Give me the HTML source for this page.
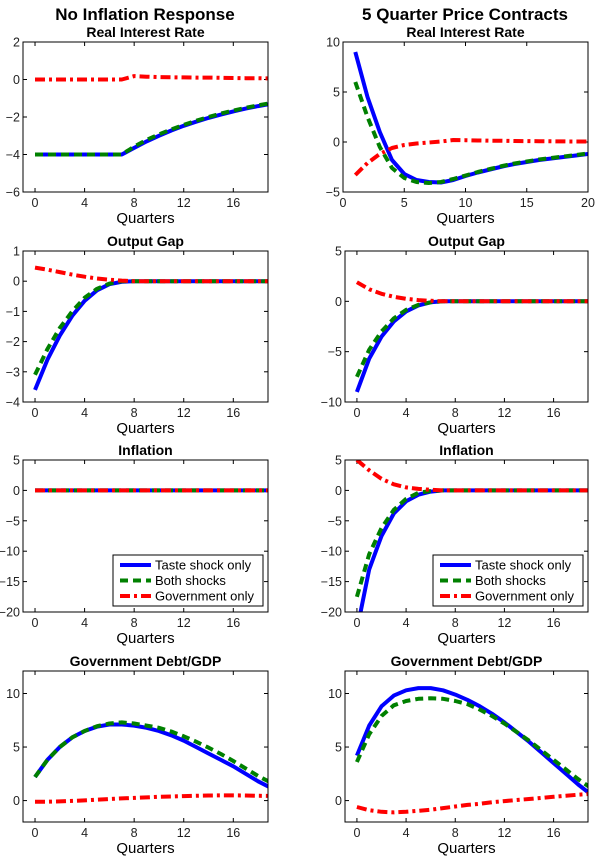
<!DOCTYPE html>
<html><head><meta charset="utf-8">
<style>
html,body{margin:0;padding:0;background:#fff;}
svg{display:block;font-family:"Liberation Sans",Arial,sans-serif;}
</style></head>
<body>
<svg id="fig" width="600" height="862" viewBox="0 0 600 862">
<text x="145" y="20" font-size="17" font-weight="bold" text-anchor="middle">No Inflation Response</text>
<text x="465" y="20" font-size="17" font-weight="bold" text-anchor="middle">5 Quarter Price Contracts</text>
</svg>
<script>
const qA=[0,1,2,3,4,5,6,7,8,9,10,11,12,13,14,15,16,17,18,19];
const qB=[1,2,3,4,5,6,7,8,9,10,11,12,13,14,15,16,17,18,19,20];
const ticksQ=[0,4,8,12,16];
const ticksQB=[0,5,10,15,20];

const rirL_blue=[-4,-4,-4,-4,-4,-4,-4,-4,-3.65,-3.3,-3.0,-2.72,-2.47,-2.25,-2.05,-1.87,-1.7,-1.55,-1.42,-1.3];
const rirL_green=[-4,-4,-4,-4,-4,-4,-4,-4,-3.58,-3.22,-2.93,-2.66,-2.42,-2.2,-2.0,-1.82,-1.66,-1.51,-1.38,-1.26];
const rirL_red=[0,0,0,0,0,0,0,0,0.18,0.15,0.13,0.12,0.11,0.1,0.1,0.09,0.08,0.07,0.07,0.06];
const rirR_blue=[9,4.5,1,-1.8,-3.2,-3.8,-4,-4.05,-3.8,-3.4,-3.05,-2.75,-2.45,-2.2,-2.0,-1.8,-1.65,-1.5,-1.35,-1.2];
const rirR_green=[6,2.5,-0.5,-2.6,-3.6,-4,-4.1,-4,-3.7,-3.35,-3.0,-2.7,-2.4,-2.15,-1.95,-1.75,-1.6,-1.45,-1.3,-1.15];
const rirR_red=[-3.3,-2.1,-1.2,-0.6,-0.3,-0.15,-0.05,0.05,0.2,0.18,0.15,0.13,0.12,0.1,0.09,0.08,0.07,0.06,0.05,0.05];

const ogL_blue=[-3.6,-2.6,-1.8,-1.15,-0.65,-0.3,-0.1,-0.02,0,0,0,0,0,0,0,0,0,0,0,0];
const ogL_green=[-3.1,-2.25,-1.55,-1.0,-0.55,-0.25,-0.08,0,0,0,0,0,0,0,0,0,0,0,0,0];
const ogL_red=[0.45,0.38,0.3,0.22,0.15,0.09,0.05,0.02,0,0,0,0,0,0,0,0,0,0,0,0];
const ogR_blue=[-9,-5.7,-3.5,-2,-1,-0.4,-0.1,0,0,0,0,0,0,0,0,0,0,0,0,0];
const ogR_green=[-7.5,-4.8,-3,-1.7,-0.85,-0.35,-0.1,0,0,0,0,0,0,0,0,0,0,0,0,0];
const ogR_red=[1.9,1.2,0.75,0.45,0.25,0.12,0.05,0,0,0,0,0,0,0,0,0,0,0,0,0];

const infL_blue=[0,0,0,0,0,0,0,0,0,0,0,0,0,0,0,0,0,0,0,0];
const infL_green=[0,0,0,0,0,0,0,0,0,0,0,0,0,0,0,0,0,0,0,0];
const infL_red=[0,0,0,0,0,0,0,0,0,0,0,0,0,0,0,0,0,0,0,0];
const infR_blue=[-23,-13,-7.5,-3.8,-1.8,-0.7,-0.2,0,0,0,0,0,0,0,0,0,0,0,0,0];
const infR_green=[-17.5,-10.5,-6.2,-3.2,-1.4,-0.4,-0.1,0,0,0,0,0,0,0,0,0,0,0,0,0];
const infR_red=[5,3.3,1.9,1.0,0.5,0.25,0.1,0,0,0,0,0,0,0,0,0,0,0,0,0];

const debtL_blue=[2.2,3.8,5.0,5.9,6.5,6.9,7.1,7.1,7.0,6.8,6.5,6.1,5.6,5.0,4.4,3.8,3.2,2.5,1.8,1.2];
const debtL_green=[2.2,3.8,5.0,5.9,6.5,6.95,7.2,7.3,7.2,7.0,6.8,6.45,6.0,5.5,4.95,4.35,3.7,3.0,2.3,1.7];
const debtL_red=[-0.1,-0.1,-0.08,-0.03,0.02,0.08,0.15,0.2,0.25,0.3,0.35,0.38,0.42,0.45,0.47,0.48,0.48,0.47,0.45,0.44];
const debtR_blue=[4.2,7,8.8,9.8,10.3,10.5,10.5,10.3,9.9,9.4,8.8,8.1,7.3,6.4,5.5,4.5,3.5,2.5,1.5,0.6];
const debtR_green=[3.6,6.2,7.9,8.9,9.3,9.5,9.55,9.5,9.3,9.0,8.5,7.9,7.2,6.4,5.6,4.7,3.8,2.9,2.0,1.2];
const debtR_red=[-0.6,-0.9,-1.05,-1.1,-1.05,-0.95,-0.85,-0.7,-0.55,-0.4,-0.3,-0.15,-0.05,0.05,0.15,0.25,0.35,0.45,0.55,0.62];

const legendLabels=["Taste shock only","Both shocks","Government only"];

const NS="http://www.w3.org/2000/svg";
const svg=document.getElementById('fig');
function mk(tag,attrs,parent){const e=document.createElementNS(NS,tag);for(const k in attrs)e.setAttribute(k,attrs[k]);(parent||svg).appendChild(e);return e;}
const styles=[
 {stroke:"#0000ff",dash:null},
 {stroke:"#008000",dash:"8,5"},
 {stroke:"#ff0000",dash:"10,4,3,4"}];
let pid=0;
function panel(name,title,x0,x1,y0,y1,xmin,xmax,ymin,ymax,xt,yt,xs,series,legend){
  pid++;
  const g=mk('g',{});
  
  
  const sx=v=>x0+(v-xmin)/(xmax-xmin)*(x1-x0);
  const sy=v=>y1-(v-ymin)/(ymax-ymin)*(y1-y0);
  const cp=mk('clipPath',{id:'c'+pid},g);
  mk('rect',{x:x0,y:y0,width:x1-x0,height:y1-y0},cp);
  const t=mk('text',{x:(x0+x1)/2,y:y0-5,'font-size':14,'font-weight':'bold','text-anchor':'middle'},g);
  t.textContent=title;
  
  
  xt.forEach(v=>{const X=sx(v);
    mk('line',{x1:X,x2:X,y1:y1,y2:y1-4,stroke:'#000'},g);
    mk('line',{x1:X,x2:X,y1:y0,y2:y0+4,stroke:'#000'},g);
    const l=mk('text',{x:X,y:y1+15,'font-size':12.5,'text-anchor':'middle',fill:'#222'},g);
    l.textContent=v;
    
    });
  yt.forEach(v=>{const Y=sy(v);
    mk('line',{x1:x0,x2:x0+4,y1:Y,y2:Y,stroke:'#000'},g);
    mk('line',{x1:x1,x2:x1-4,y1:Y,y2:Y,stroke:'#000'},g);
    const l=mk('text',{x:x0-3,y:Y+4.5,'font-size':12.5,'text-anchor':'end',fill:'#222'},g);
    l.textContent=String(v).replace('-','\u2212');
    
    });
  const xl=mk('text',{x:(x0+x1)/2,y:y1+31,'font-size':15,'text-anchor':'middle'},g);
  xl.textContent='Quarters';
  
  
  const sg=mk('g',{'clip-path':'url(#c'+pid+')'},g);
  [0,1,2].forEach(i=>{
    const d=series[i].map((v,j)=>(j?'L':'M')+sx(xs[j]).toFixed(1)+','+sy(v).toFixed(1)).join('');
    const p=mk('path',{d:d,fill:'none',stroke:styles[i].stroke,'stroke-width':4,'stroke-linejoin':'round'},sg);
    if(styles[i].dash)p.setAttribute('stroke-dasharray',styles[i].dash);
    
    
  });
  mk('rect',{x:x0,y:y0,width:x1-x0,height:y1-y0,fill:'none',stroke:'#000','stroke-width':1},g);
  if(legend){
    const lx=x1-155,ly=y1-57;
    const lg=mk('g',{},g);
    
    
    mk('rect',{x:lx,y:ly,width:150,height:51,fill:'#fff',stroke:'#000'},lg);
    legendLabels.forEach((lab,i)=>{
      const Y=ly+10+i*15.5;
      const ln=mk('line',{x1:lx+7,x2:lx+38,y1:Y,y2:Y,stroke:styles[i].stroke,'stroke-width':4},lg);
      if(styles[i].dash)ln.setAttribute('stroke-dasharray',styles[i].dash);
      const tx=mk('text',{x:lx+42,y:Y+4.5,'font-size':13},lg);
      tx.textContent=lab;
      
      
    });
  }
}
const LX0=23,LX1=268,RX0=345,RX1=588;
const XMIN=-0.97,XMAX=18.8;
panel('rir-left','Real Interest Rate',LX0,LX1,42,192,XMIN,XMAX,-6,2,ticksQ,[2,0,-2,-4,-6],qA,[rirL_blue,rirL_green,rirL_red]);
panel('rir-right','Real Interest Rate',343,588,42,192,0,20,-5,10,ticksQB,[10,5,0,-5],qB,[rirR_blue,rirR_green,rirR_red]);
panel('output-gap-left','Output Gap',LX0,LX1,251,402,XMIN,XMAX,-4,1,ticksQ,[1,0,-1,-2,-3,-4],qA,[ogL_blue,ogL_green,ogL_red]);
panel('output-gap-right','Output Gap',RX0,RX1,251,402,XMIN,XMAX,-10,5,ticksQ,[5,0,-5,-10],qA,[ogR_blue,ogR_green,ogR_red]);
panel('inflation-left','Inflation',LX0,LX1,460,612,XMIN,XMAX,-20,5,ticksQ,[5,0,-5,-10,-15,-20],qA,[infL_blue,infL_green,infL_red],true);
panel('inflation-right','Inflation',RX0,RX1,460,612,XMIN,XMAX,-20,5,ticksQ,[5,0,-5,-10,-15,-20],qA,[infR_blue,infR_green,infR_red],true);
panel('debt-left','Government Debt/GDP',LX0,LX1,671,822,XMIN,XMAX,-2,12.1,ticksQ,[10,5,0],qA,[debtL_blue,debtL_green,debtL_red]);
panel('debt-right','Government Debt/GDP',RX0,RX1,671,822,XMIN,XMAX,-2,12.1,ticksQ,[10,5,0],qA,[debtR_blue,debtR_green,debtR_red]);
</script>
</body></html>
